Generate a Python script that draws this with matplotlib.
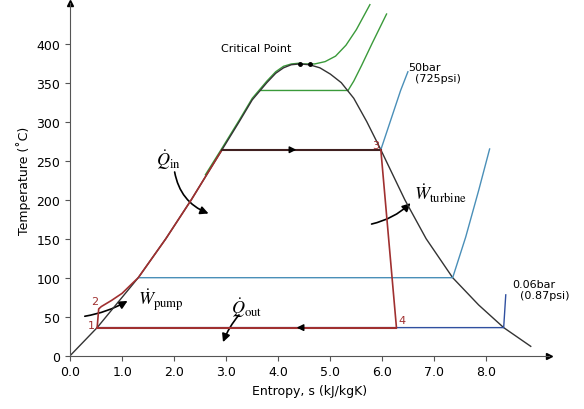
import numpy as np
import matplotlib.pyplot as plt
from matplotlib.patches import FancyArrowPatch

plt.rcParams['mathtext.fontset'] = 'stix'

# saturation dome (entropy kJ/kgK, temperature C)
liq_s = [0.0, 0.52, 1.31, 1.84, 2.33, 2.79, 3.25, 3.5, 3.78, 3.95, 4.1, 4.25, 4.41]
liq_T = [0, 36, 100, 150, 200, 250, 300, 328, 350, 362, 369, 373, 374]
vap_s = [4.41, 4.6, 4.8, 5.0, 5.21, 5.45, 5.70, 5.97, 6.07, 6.43, 6.84, 7.35, 7.85, 8.33, 8.85]
vap_T = [374, 373, 369, 361, 350, 330, 300, 264, 250, 200, 150, 100, 65, 36, 12]

# isobars
p50_s = [2.92, 5.97, 6.15, 6.35, 6.49]
p50_T = [264, 264, 300, 340, 364]
p1_s = [1.31, 7.35, 7.6, 7.85, 8.06]
p1_T = [100, 100, 152, 212, 265]
p006_s = [0.52, 8.33, 8.37]
p006_T = [36, 36, 78]
g1_s = [3.66, 5.34, 5.45, 5.6, 5.8, 6.08]
g1_T = [340, 340, 352, 372, 400, 438]
g2_s = [4.41, 4.7, 4.9, 5.1, 5.3, 5.5, 5.76]
g2_T = [374, 374, 377, 384, 398, 418, 450]
g3_s = [2.6, 2.9, 3.25, 3.5, 3.78, 3.95, 4.1, 4.25, 4.41]
g3_T = [232, 264, 302, 330, 352, 364, 371, 374, 375]

# cycle
cyc_s = [0.52, 0.55, 0.6, 0.8, 1.0, 1.2, 1.31, 1.84, 2.33, 2.79, 2.92]
cyc_T = [36, 60, 63, 71, 80, 93, 100, 150, 200, 250, 264]

fig = plt.figure(figsize=(5.84, 4.10), dpi=100)
ax = fig.add_axes([0.12, 0.13, 0.82, 0.86])
ax.set_xlim(0, 9.2)
ax.set_ylim(0, 452)
for sp in ['top', 'right']:
    ax.spines[sp].set_visible(False)
ax.spines['left'].set_color('#555555')
ax.spines['bottom'].set_color('#555555')
ax.plot(1, 0, '>k', transform=ax.get_yaxis_transform(), clip_on=False, ms=5)
ax.plot(0, 1, '^k', transform=ax.get_xaxis_transform(), clip_on=False, ms=5)
ax.set_xticks(np.arange(0, 9, 1.0))
ax.set_xticklabels([f'{v:.1f}' for v in np.arange(0, 9, 1.0)])
ax.set_yticks(range(0, 401, 50))
ax.tick_params(labelsize=9, color='#555555')
ax.set_xlabel('Entropy, s (kJ/kgK)', fontsize=9)
ax.set_ylabel('Temperature (\u02daC)', fontsize=9)

green = '#3a9a3a'
blue = '#4a8fb8'
red = '#a03030'
ax.plot(g2_s, g2_T, color=green, lw=1)
ax.plot(g1_s, g1_T, color=green, lw=1)
ax.plot(g3_s, g3_T, color=green, lw=1)
ax.plot(liq_s, liq_T, color='#333333', lw=1)
ax.plot(vap_s, vap_T, color='#333333', lw=1)
ax.plot(p50_s, p50_T, color=blue, lw=1)
ax.plot(p1_s, p1_T, color=blue, lw=1)
ax.plot(p006_s, p006_T, color='#3050a0', lw=1)

ax.plot(cyc_s, cyc_T, color=red, lw=1.2)
ax.plot([2.92, 5.97], [264, 264], color='#402020', lw=1.5)
ax.plot([5.97, 6.27], [264, 36], color=red, lw=1.2)
ax.plot([6.27, 0.52], [36, 36], color=red, lw=1.5)
ax.annotate('', xy=(4.4, 264), xytext=(4.2, 264), arrowprops=dict(arrowstyle='-|>', color='k'))
ax.annotate('', xy=(4.3, 36), xytext=(4.5, 36), arrowprops=dict(arrowstyle='-|>', color='k'))
ax.plot([4.41, 4.6], [374, 374], 'k.', ms=5)

ax.text(2.9, 391, 'Critical Point', fontsize=8)
ax.text(6.5, 352, '50bar\n  (725psi)', fontsize=8)
ax.text(8.5, 85, '0.06bar\n  (0.87psi)', fontsize=8, va='center')
for lab, s, T in [('1', 0.35, 39), ('2', 0.4, 70), ('3', 5.8, 270), ('4', 6.3, 46)]:
    ax.text(s, T, lab, color=red, fontsize=8, va='center')

mt = dict(fontsize=13)
ax.text(1.65, 245, r'$\dot{Q}_{\mathrm{in}}$', **mt)
ax.text(1.3, 65, r'$\dot{W}_{\mathrm{pump}}$', **mt)
ax.text(3.1, 55, r'$\dot{Q}_{\mathrm{out}}$', **mt)
ax.text(6.6, 200, r'$\dot{W}_{\mathrm{turbine}}$', **mt)
for a, b, r in [((2.0, 239), (2.71, 181), 0.3), ((0.23, 50), (1.15, 72), 0.1),
                ((3.28, 55), (2.92, 14), 0.1), ((5.74, 168), (6.58, 198), 0.15)]:
    ax.add_patch(FancyArrowPatch(a, b, connectionstyle=f'arc3,rad={r}',
                                 arrowstyle='-|>', mutation_scale=12, color='k', lw=1.2))

fig.savefig('out.png', dpi=100)
